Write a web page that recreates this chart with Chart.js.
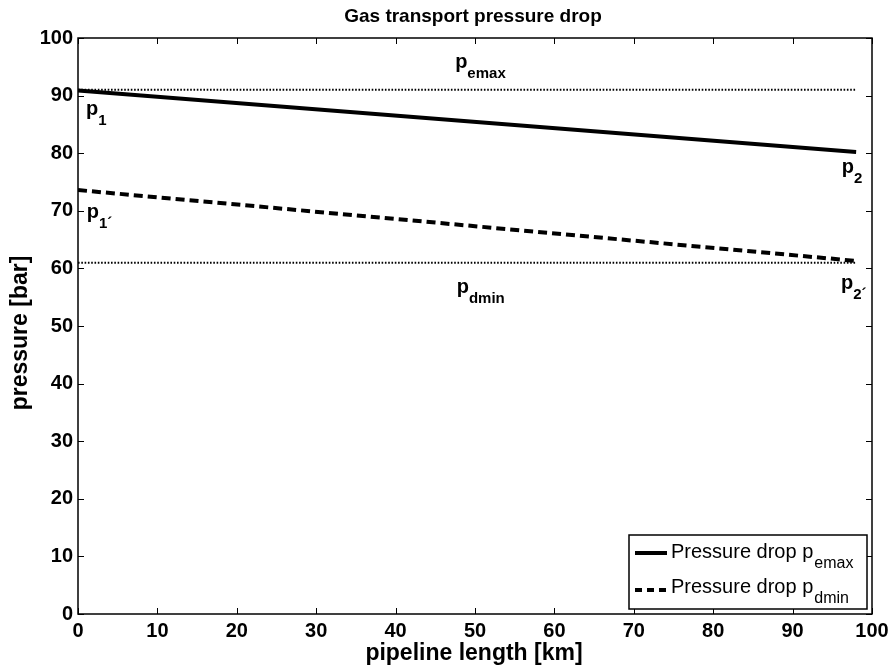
<!DOCTYPE html>
<html>
<head>
<meta charset="utf-8">
<script src="https://cdn.jsdelivr.net/npm/chart.js@4.4.0/dist/chart.umd.min.js"></script>
<style>
  html, body { margin: 0; padding: 0; background: #fff; }
  #wrap { width: 889px; height: 670px; }
</style>
</head>
<body>
<div id="wrap"><canvas id="c" width="889" height="670"></canvas></div>
<script>
// ---- data ----
const pipelineKm = [0, 98];
const pEmaxLimit = [91, 91];
const pDminLimit = [61, 61];
const dropFromEmax = [90.9, 80.2];
const dropFromDmin = [73.6, 61.3];
const xTicks = [0, 10, 20, 30, 40, 50, 60, 70, 80, 90, 100];
const yTicks = [0, 10, 20, 30, 40, 50, 60, 70, 80, 90, 100];
const titleText = 'Gas transport pressure drop';
const xTitle = 'pipeline length [km]';
const yTitle = 'pressure [bar]';
const legendBase = ['Pressure drop p', 'Pressure drop p'];
const legendSub = ['emax', 'dmin'];
// text annotations (anchor in data units)
const annotBase = ['p', 'p', 'p', 'p', 'p', 'p'];
const annotSub = ['emax', '1', '2', '1\u00B4', 'dmin', '2\u00B4'];
const annotX = [47.5, 1.0, 96.2, 1.1, 47.7, 96.1];
const annotY = [94.8, 86.6, 76.6, 68.8, 55.7, 56.4];

const pts = (xs, ys) => xs.map((v, i) => ({x: v, y: ys[i]}));
const FONT = '"Liberation Sans", Arial, Helvetica, sans-serif';

const overlay = {
  id: 'overlay',
  afterDraw(chart) {
    const {ctx, chartArea: a, scales: {x, y}} = chart;
    ctx.save();
    // frame
    ctx.strokeStyle = '#000';
    ctx.lineWidth = 1.5;
    ctx.strokeRect(a.left, a.top, a.right - a.left, a.bottom - a.top);
    // inward ticks on all sides
    const tl = 6;
    ctx.lineWidth = 1;
    ctx.beginPath();
    xTicks.forEach(v => {
      const px = Math.round(x.getPixelForValue(v)) + 0.5;
      ctx.moveTo(px, a.bottom); ctx.lineTo(px, a.bottom - tl);
      ctx.moveTo(px, a.top); ctx.lineTo(px, a.top + tl);
    });
    yTicks.forEach(v => {
      const py = Math.round(y.getPixelForValue(v)) + 0.5;
      ctx.moveTo(a.left, py); ctx.lineTo(a.left + tl, py);
      ctx.moveTo(a.right, py); ctx.lineTo(a.right - tl, py);
    });
    ctx.stroke();

    ctx.fillStyle = '#000';
    // title
    ctx.font = 'bold 19px ' + FONT;
    ctx.textAlign = 'center';
    ctx.textBaseline = 'alphabetic';
    ctx.fillText(titleText, 473, 22);
    // x title
    ctx.font = 'bold 23px ' + FONT;
    ctx.fillText(xTitle, 474, 660);
    // y title
    ctx.save();
    ctx.translate(27, 333);
    ctx.rotate(-Math.PI / 2);
    ctx.fillText(yTitle, 0, 0);
    ctx.restore();

    // annotations with subscripts
    ctx.textAlign = 'left';
    annotBase.forEach((b, i) => {
      const px = x.getPixelForValue(annotX[i]);
      const py = y.getPixelForValue(annotY[i]);
      ctx.font = 'bold 20px ' + FONT;
      ctx.fillText(b, px, py);
      const w = ctx.measureText(b).width;
      ctx.font = 'bold 15px ' + FONT;
      ctx.fillText(annotSub[i], px + w, py + 10);
    });

    // legend
    const bx1 = a.right - 5, by1 = a.bottom - 5;
    const bx0 = bx1 - 238, by0 = by1 - 74;
    ctx.fillStyle = '#fff';
    ctx.fillRect(bx0, by0, bx1 - bx0, by1 - by0);
    ctx.strokeStyle = '#000';
    ctx.lineWidth = 1.5;
    ctx.strokeRect(bx0, by0, bx1 - bx0, by1 - by0);
    const rows = [by0 + 18, by0 + 55];
    const dashes = [[], [7, 5]];
    rows.forEach((ry, i) => {
      ctx.strokeStyle = '#000';
      ctx.lineWidth = 4;
      ctx.setLineDash(dashes[i]);
      ctx.beginPath();
      ctx.moveTo(bx0 + 6, ry); ctx.lineTo(bx0 + 38, ry);
      ctx.stroke();
      ctx.setLineDash([]);
      ctx.fillStyle = '#000';
      ctx.font = '20px ' + FONT;
      ctx.fillText(legendBase[i], bx0 + 42, ry + 5 - (i ? 2 : 0));
      const w = ctx.measureText(legendBase[i]).width;
      ctx.font = '16px ' + FONT;
      ctx.fillText(legendSub[i], bx0 + 42 + w + 1, ry + 15 - (i ? 2 : 0));
    });
    ctx.restore();
  }
};

new Chart(document.getElementById('c'), {
  type: 'scatter',
  data: {
    datasets: [
      { label: 'p_emax', data: pts(pipelineKm, pEmaxLimit), showLine: true, borderColor: '#000', borderWidth: 2, borderDash: [1.6, 1.7], pointRadius: 0, fill: false },
      { label: 'p_dmin', data: pts(pipelineKm, pDminLimit), showLine: true, borderColor: '#000', borderWidth: 2, borderDash: [1.6, 1.7], pointRadius: 0, fill: false },
      { label: 'Pressure drop p_emax', data: pts(pipelineKm, dropFromEmax), showLine: true, borderColor: '#000', borderWidth: 4, pointRadius: 0, fill: false },
      { label: 'Pressure drop p_dmin', data: pts(pipelineKm, dropFromDmin), showLine: true, borderColor: '#000', borderWidth: 4, borderDash: [9, 5], pointRadius: 0, fill: false }
    ]
  },
  options: {
    responsive: false,
    animation: false,
    devicePixelRatio: 1,
    layout: { padding: { top: 38, right: 17, left: 0, bottom: 0 } },
    plugins: { legend: { display: false }, tooltip: { enabled: false }, title: { display: false } },
    scales: {
      x: {
        type: 'linear', min: 0, max: 100,
        afterFit: s => { s.height = 56; s.paddingLeft = 0; s.paddingRight = 0; },
        afterBuildTicks: s => { s.ticks = xTicks.map(v => ({value: v})); },
        grid: { display: false, drawTicks: false },
        border: { display: false },
        ticks: { color: '#000', font: { family: FONT, size: 20, weight: 'bold' }, padding: 5, maxRotation: 0, autoSkip: false }
      },
      y: {
        type: 'linear', min: 0, max: 100,
        afterFit: s => { s.width = 78; s.paddingTop = 0; s.paddingBottom = 0; },
        afterBuildTicks: s => { s.ticks = yTicks.map(v => ({value: v})); },
        grid: { display: false, drawTicks: false },
        border: { display: false },
        ticks: { color: '#000', font: { family: FONT, size: 20, weight: 'bold' }, padding: 5, autoSkip: false }
      }
    }
  },
  plugins: [overlay]
});
</script>
</body>
</html>
